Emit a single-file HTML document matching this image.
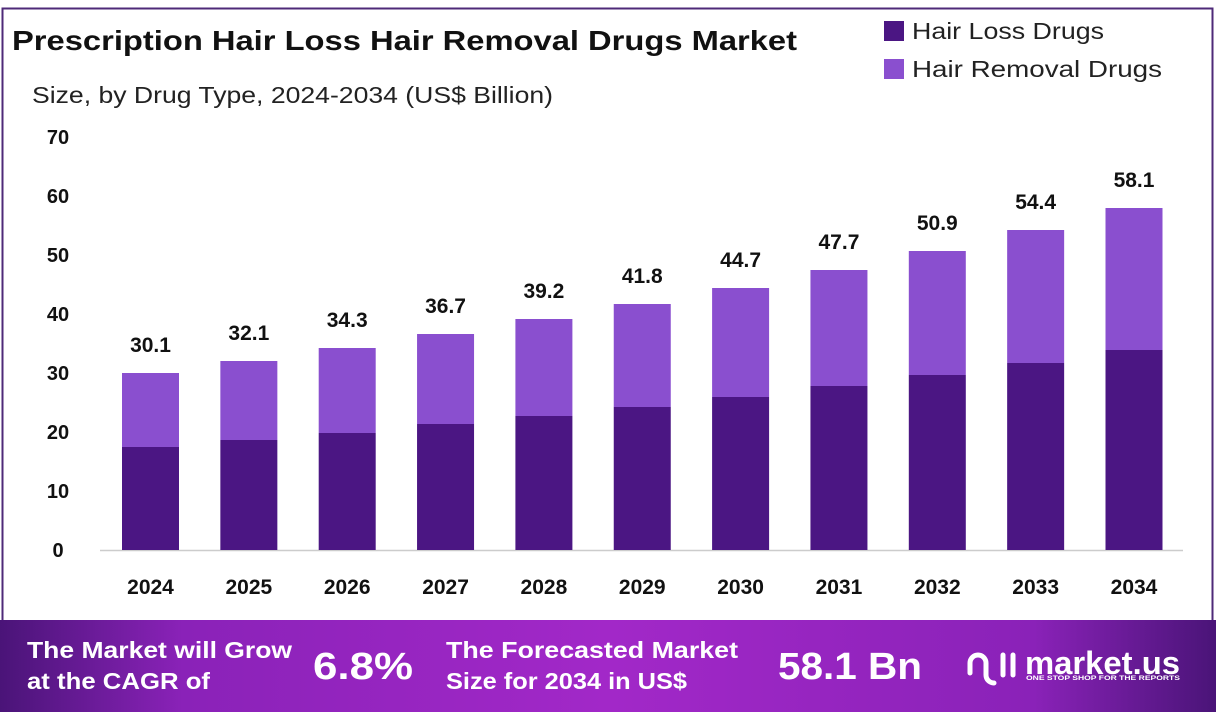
<!DOCTYPE html>
<html><head><meta charset="utf-8"><style>
body{margin:0;width:1216px;height:722px;background:#fff;font-family:"Liberation Sans",sans-serif;overflow:hidden}
</style></head><body>
<svg width="1216" height="722" xmlns="http://www.w3.org/2000/svg" font-family="Liberation Sans, sans-serif">
<defs>
<linearGradient id="bn" x1="0" x2="1" y1="0" y2="0">
<stop offset="0" stop-color="#4a1478"/><stop offset="0.15" stop-color="#8a22b8"/><stop offset="0.5" stop-color="#a228c8"/><stop offset="0.85" stop-color="#8a22b8"/><stop offset="1" stop-color="#4a1478"/>
</linearGradient>
</defs>
<rect x="2.5" y="8.5" width="1210" height="620" fill="none" stroke="#4e2a78" stroke-width="2"/>
<text x="12" y="50" font-size="28" font-weight="bold" fill="#111" textLength="785" lengthAdjust="spacingAndGlyphs">Prescription Hair Loss Hair Removal Drugs Market</text>
<text x="32" y="103" font-size="23" fill="#222" textLength="521" lengthAdjust="spacingAndGlyphs">Size, by Drug Type, 2024-2034 (US$ Billion)</text>
<rect x="884" y="21" width="20" height="20" fill="#4b1683"/>
<text x="912" y="39" font-size="23" fill="#222" textLength="192" lengthAdjust="spacingAndGlyphs">Hair Loss Drugs</text>
<rect x="884" y="59" width="20" height="20" fill="#8a4fcf"/>
<text x="912" y="77" font-size="23" fill="#222" textLength="250" lengthAdjust="spacingAndGlyphs">Hair Removal Drugs</text>
<g font-size="20" font-weight="bold" fill="#111" text-anchor="middle">
<text x="58" y="144">70</text><text x="58" y="203">60</text><text x="58" y="262">50</text><text x="58" y="321">40</text><text x="58" y="380">30</text><text x="58" y="439">20</text><text x="58" y="498">10</text><text x="58" y="557">0</text>
</g>
<line x1="100" y1="550.5" x2="1183" y2="550.5" stroke="#ccc" stroke-width="1.5"/>
<g fill="#8a4fcf">
<rect x="122" y="373" width="57" height="74"/>
<rect x="220.35" y="361" width="57" height="79"/>
<rect x="318.7" y="348" width="57" height="85"/>
<rect x="417.05" y="334" width="57" height="90"/>
<rect x="515.4" y="319" width="57" height="97"/>
<rect x="613.75" y="304" width="57" height="103"/>
<rect x="712.1" y="288" width="57" height="109"/>
<rect x="810.45" y="270" width="57" height="116"/>
<rect x="908.8" y="251" width="57" height="124"/>
<rect x="1007.15" y="230" width="57" height="133"/>
<rect x="1105.5" y="208" width="57" height="142"/>
</g>
<g fill="#4b1683">
<rect x="122" y="447" width="57" height="103"/>
<rect x="220.35" y="440" width="57" height="110"/>
<rect x="318.7" y="433" width="57" height="117"/>
<rect x="417.05" y="424" width="57" height="126"/>
<rect x="515.4" y="416" width="57" height="134"/>
<rect x="613.75" y="407" width="57" height="143"/>
<rect x="712.1" y="397" width="57" height="153"/>
<rect x="810.45" y="386" width="57" height="164"/>
<rect x="908.8" y="375" width="57" height="175"/>
<rect x="1007.15" y="363" width="57" height="187"/>
<rect x="1105.5" y="350" width="57" height="200"/>
</g>
<g font-size="21" font-weight="bold" fill="#111" text-anchor="middle">
<text x="150.5" y="352">30.1</text>
<text x="248.85" y="340">32.1</text>
<text x="347.2" y="327">34.3</text>
<text x="445.55" y="313">36.7</text>
<text x="543.9" y="298">39.2</text>
<text x="642.25" y="283">41.8</text>
<text x="740.6" y="267">44.7</text>
<text x="838.95" y="249">47.7</text>
<text x="937.3" y="230">50.9</text>
<text x="1035.65" y="209">54.4</text>
<text x="1134" y="187">58.1</text>
</g>
<g font-size="21" font-weight="bold" fill="#111" text-anchor="middle">
<text x="150.5" y="594">2024</text><text x="248.85" y="594">2025</text><text x="347.2" y="594">2026</text><text x="445.55" y="594">2027</text><text x="543.9" y="594">2028</text><text x="642.25" y="594">2029</text><text x="740.6" y="594">2030</text><text x="838.95" y="594">2031</text><text x="937.3" y="594">2032</text><text x="1035.65" y="594">2033</text><text x="1134" y="594">2034</text>
</g>
<rect x="0" y="620" width="1216" height="92" fill="url(#bn)"/>
<g fill="#fff" font-weight="bold" lengthAdjust="spacingAndGlyphs">
<text x="27" y="658" font-size="23" textLength="265" lengthAdjust="spacingAndGlyphs">The Market will Grow</text>
<text x="27" y="689" font-size="23" textLength="183" lengthAdjust="spacingAndGlyphs">at the CAGR of</text>
<text x="313" y="679" font-size="38" textLength="100" lengthAdjust="spacingAndGlyphs">6.8%</text>
<text x="446" y="658" font-size="23" textLength="292" lengthAdjust="spacingAndGlyphs">The Forecasted Market</text>
<text x="446" y="689" font-size="23" textLength="241" lengthAdjust="spacingAndGlyphs">Size for 2034 in US$</text>
<text x="778" y="679" font-size="38" textLength="144" lengthAdjust="spacingAndGlyphs">58.1 Bn</text>
<text x="1025" y="674" font-size="32" textLength="155" lengthAdjust="spacingAndGlyphs">market.us</text>
<text x="1026" y="680" font-size="6" textLength="154" lengthAdjust="spacingAndGlyphs">ONE STOP SHOP FOR THE REPORTS</text>
</g>
<g fill="none" stroke="#fff" stroke-width="5" stroke-linecap="round">
<path d="M970 673 v-10 a8 8 0 0 1 16 0 v12 a8 8 0 0 0 8 8"/>
<line x1="1003" y1="655" x2="1003" y2="675"/><line x1="1013" y1="655" x2="1013" y2="675"/>
</g>
</svg>
</body></html>
